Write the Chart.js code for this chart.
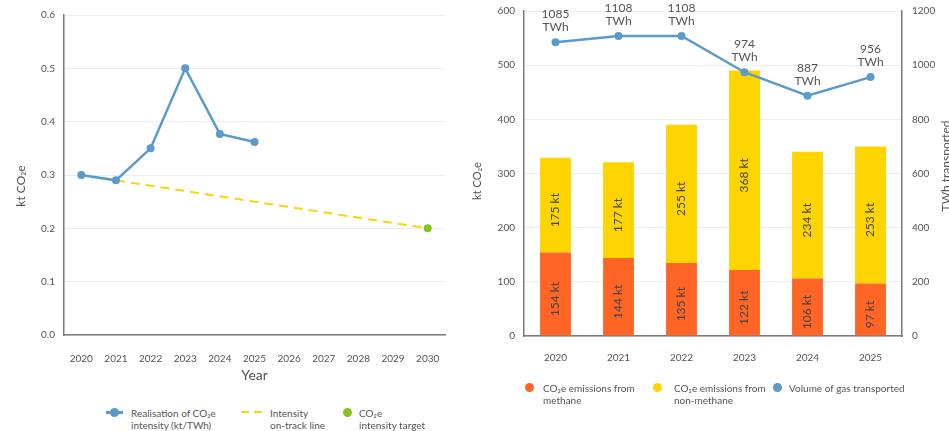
<!DOCTYPE html>
<html>
<head>
<meta charset="utf-8">
<script src="https://cdn.jsdelivr.net/npm/chart.js@4.4.1/dist/chart.umd.min.js"></script>
<style>
  body { margin: 0; background: #fff; font-family: Lato, sans-serif; }
  #wrap { position: relative; width: 949px; height: 431px; overflow: hidden; }
  #left { position: absolute; left: 0; top: 0; }
  #right { position: absolute; left: 470px; top: -5px; }
  .lg { position: absolute; font-size: 10px; line-height: 12px; color: #555; white-space: nowrap; }
  .dot { position: absolute; width: 9px; height: 9px; border-radius: 50%; }
</style>
</head>
<body>
<div id="wrap">
  <canvas id="left" width="470" height="386"></canvas>
  <canvas id="right" width="479" height="375"></canvas>

  <!-- left legend -->
  <div style="position:absolute;left:106px;top:411px;width:17px;height:2.5px;background:#5b9bc9"></div>
  <div class="dot" style="left:109.5px;top:407.5px;background:#5b9bc9"></div>
  <div class="lg" style="left:131px;top:406.5px">Realisation of CO₂e<br>intensity (kt/TWh)</div>
  <svg style="position:absolute;left:240px;top:410px" width="24" height="4">
    <line x1="1" y1="2" x2="23" y2="2" stroke="#ffd400" stroke-width="2" stroke-dasharray="8,5"/>
  </svg>
  <div class="lg" style="left:270px;top:406.5px">Intensity<br>on-track line</div>
  <div class="dot" style="left:342.5px;top:407.5px;background:#84c41c"></div>
  <div class="lg" style="left:359px;top:406.5px">CO₂e<br>intensity target</div>

  <!-- right legend -->
  <div class="dot" style="left:524.5px;top:382.5px;background:#ff6525"></div>
  <div class="lg" style="left:543px;top:381.5px">CO₂e emissions from<br>methane</div>
  <div class="dot" style="left:652.5px;top:382.5px;background:#ffd400"></div>
  <div class="lg" style="left:674px;top:381.5px">CO₂e emissions from<br>non-methane</div>
  <div class="dot" style="left:772.5px;top:382.5px;background:#5b9bc9"></div>
  <div class="lg" style="left:789px;top:381.5px">Volume of gas transported</div>
</div>

<script>
// Left chart data
const years = ['2020', '2021', '2022', '2023', '2024', '2025', '2026', '2027', '2028', '2029', '2030'];
const intensity = [0.30, 0.29, 0.35, 0.50, 0.377, 0.362, null, null, null, null, null];
const onTrack = [null, 0.29, null, null, null, null, null, null, null, null, 0.20];
const target = [null, null, null, null, null, null, null, null, null, null, 0.20];

// Right chart data
const barYears = ['2020', '2021', '2022', '2023', '2024', '2025'];
const methane = [154, 144, 135, 122, 106, 97];
const nonMethane = [175, 177, 255, 368, 234, 253];
const gasVolume = [1085, 1108, 1108, 974, 887, 956];

const BLUE = '#5b9bc9';
const ORANGE = '#ff6525';
const YELLOW = '#ffd400';
const GREEN = '#84c41c';
const AXIS = '#7a7a7a';
const GRID = '#ececec';
const TXT = '#555';
const FONT = 'Lato, sans-serif';

Chart.defaults.font.family = FONT;
Chart.defaults.color = TXT;
Chart.defaults.animation = false;

// Draws a vertical axis title (bottom to top) at a given spot
function sideTitle(id, text, size, xFn, yFn) {
  return {
    id: id,
    afterDraw(chart) {
      const ctx = chart.ctx;
      ctx.save();
      ctx.font = size + 'px ' + FONT;
      ctx.fillStyle = TXT;
      ctx.textAlign = 'center';
      ctx.textBaseline = 'middle';
      ctx.translate(xFn(chart), yFn(chart));
      ctx.rotate(-Math.PI / 2);
      ctx.fillText(text, 0, 0);
      ctx.restore();
    }
  };
}

/*******************
Left chart: intensity
*******************/
new Chart(document.getElementById('left'), {
  type: 'line',
  data: {
    labels: years,
    datasets: [
      {
        data: intensity,
        borderColor: BLUE,
        backgroundColor: BLUE,
        borderWidth: 2.5,
        pointRadius: 4,
        pointBorderWidth: 0,
        tension: 0
      },
      {
        data: onTrack,
        borderColor: YELLOW,
        borderWidth: 2,
        borderDash: [9, 6],
        pointRadius: 0,
        spanGaps: true
      },
      {
        data: target,
        borderColor: GREEN,
        backgroundColor: GREEN,
        pointRadius: 4,
        pointBorderWidth: 0,
        showLine: false
      }
    ]
  },
  options: {
    responsive: false,
    layout: { padding: { top: 15, right: 25, left: 0, bottom: 0 } },
    plugins: { legend: { display: false }, tooltip: { enabled: false } },
    scales: {
      x: {
        offset: true,
        grid: { display: false },
        border: { color: AXIS, width: 1.5 },
        ticks: { font: { size: 10 }, padding: 10, maxRotation: 0 },
        title: { display: true, text: 'Year', font: { size: 14 }, padding: { top: 4, bottom: 2 } },
        afterFit: (s) => { s.height = 51; }
      },
      y: {
        min: 0,
        max: 0.6,
        grid: { color: GRID, drawTicks: false },
        border: { color: AXIS, width: 1.5 },
        ticks: { stepSize: 0.1, font: { size: 10 }, padding: 9, callback: (v) => v.toFixed(1) },
        afterFit: (s) => { s.width = 64; }
      }
    }
  },
  plugins: [sideTitle('leftTitle', 'kt CO₂e', 12, () => 21, (c) => c.chartArea.top + 171)]
});

/*******************
Right chart: emissions and gas volume
*******************/
const valueLabels = {
  id: 'valueLabels',
  afterDatasetsDraw(chart) {
    const ctx = chart.ctx;
    ctx.save();
    ctx.font = '12px ' + FONT;
    ctx.fillStyle = '#444';
    ctx.textAlign = 'center';
    ctx.textBaseline = 'middle';

    // rotated labels inside the bar segments
    [0, 1].forEach((di) => {
      chart.getDatasetMeta(di).data.forEach((bar, i) => {
        ctx.save();
        ctx.translate(bar.x, (bar.y + bar.base) / 2 + 5);
        ctx.rotate(-Math.PI / 2);
        ctx.fillText(chart.data.datasets[di].data[i] + ' kt', 0, 0);
        ctx.restore();
      });
    });

    // two-line labels above the gas volume points
    ctx.fillStyle = TXT;
    chart.getDatasetMeta(2).data.forEach((pt, i) => {
      ctx.fillText(String(gasVolume[i]), pt.x, pt.y - 28);
      ctx.fillText('TWh', pt.x, pt.y - 15);
    });
    ctx.restore();
  }
};

new Chart(document.getElementById('right'), {
  type: 'bar',
  data: {
    labels: barYears,
    datasets: [
      {
        label: 'CO₂e emissions from methane',
        data: methane,
        backgroundColor: ORANGE,
        barPercentage: 0.49,
        categoryPercentage: 1,
        yAxisID: 'y',
        order: 1
      },
      {
        label: 'CO₂e emissions from non-methane',
        data: nonMethane,
        backgroundColor: YELLOW,
        barPercentage: 0.49,
        categoryPercentage: 1,
        yAxisID: 'y',
        order: 1
      },
      {
        type: 'line',
        label: 'Volume of gas transported',
        data: gasVolume,
        borderColor: BLUE,
        backgroundColor: BLUE,
        borderWidth: 2.5,
        pointRadius: 4,
        pointBorderWidth: 0,
        yAxisID: 'y1',
        order: 0
      }
    ]
  },
  options: {
    responsive: false,
    layout: { padding: { top: 15, right: 0, left: 0, bottom: 0 } },
    plugins: { legend: { display: false }, tooltip: { enabled: false } },
    scales: {
      x: {
        stacked: true,
        grid: { display: false },
        border: { color: AXIS, width: 1.5 },
        ticks: { font: { size: 10 }, padding: 8, maxRotation: 0 },
        afterFit: (s) => { s.height = 34; }
      },
      y: {
        stacked: true,
        position: 'left',
        min: 0,
        max: 600,
        grid: { color: GRID, drawTicks: false },
        border: { color: AXIS, width: 1.5 },
        ticks: { stepSize: 100, font: { size: 10 }, padding: 9 },
        afterFit: (s) => { s.width = 54; }
      },
      y1: {
        position: 'right',
        min: 0,
        max: 1200,
        grid: { drawOnChartArea: false, drawTicks: false },
        border: { color: AXIS, width: 1.5 },
        ticks: { stepSize: 200, font: { size: 10 }, padding: 10, callback: (v) => String(v) },
        afterFit: (s) => { s.width = 47; }
      }
    }
  },
  plugins: [
    valueLabels,
    sideTitle('yTitle', 'kt CO₂e', 11, () => 7, (c) => c.chartArea.top + 170),
    sideTitle('y1Title', 'TWh transported', 12, (c) => c.width - 3, (c) => c.chartArea.top + 155)
  ]
});
</script>
</body>
</html>
